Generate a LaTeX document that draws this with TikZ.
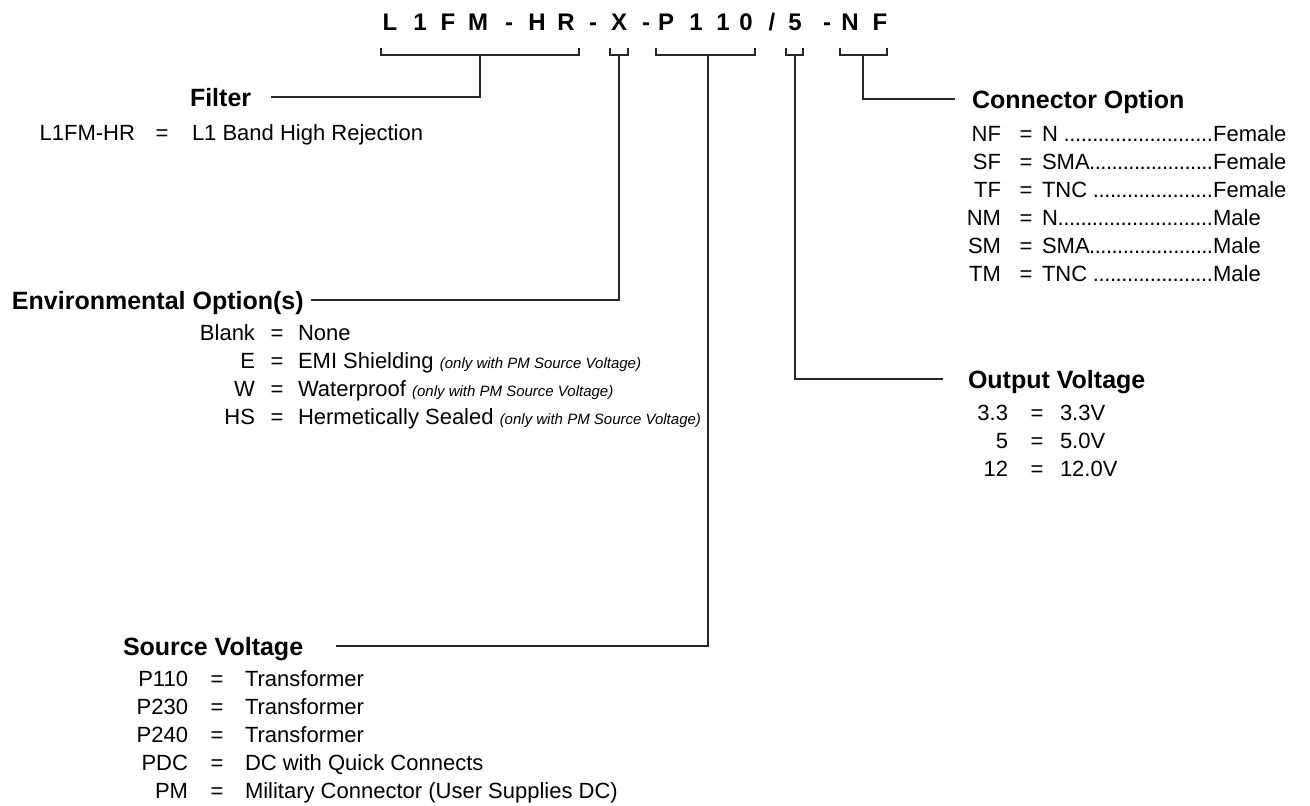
\documentclass[tikz,border=0pt]{standalone}
\usepackage{fontspec}
\setmainfont{Liberation Sans}
\usepackage{tikz}
\usetikzlibrary{positioning, calc}

\newcommand{\leaderdots}{\xleaders\hbox to 5.6pt{\hss.}\hfill}
\newcommand{\envnote}[1]{{\fontsize{15}{18}\selectfont\itshape #1}}

\begin{document}
\begin{tikzpicture}[x=1pt, y=-1pt,
        every node/.style={inner sep=0pt, outer sep=0pt},
        code/.style={font=\fontsize{24}{28}\selectfont\bfseries, anchor=base},
        head/.style={font=\fontsize{25}{30}\selectfont\bfseries, text height=18pt, text depth=0pt, anchor=west},
        txt/.style={font=\fontsize{22}{26}\selectfont},
        wire/.style={line width=1.1pt, black!85}]
        \useasboundingbox (0,0) rectangle (1310,806);

        % Codice del modello
        \foreach \ch/\x [count=\i] in {L/390, 1/420, F/448, M/478, -/509, H/537, R/566, -/593, X/619, -/646, P/666, 1/696, 1/723, 0/746, {/}/772, 5/795, -/827, N/850, F/880}
            \node[code] (ch\i) at (\x,30) {\ch};

        % Parentesi
        \coordinate (b1) at (480,55);
        \coordinate (b2) at (619,55);
        \coordinate (b3) at (708,55);
        \coordinate (b4) at (795,55);
        \coordinate (b5) at (863,55);
        \draw[wire] (381,48) |- (b1) -| (579,48);
        \draw[wire] (610,48) |- (b2) -| (628,48);
        \draw[wire] (656,48) |- (b3) -| (755,48);
        \draw[wire] (786,48) |- (b4) -| (803,48);
        \draw[wire] (840,48) |- (b5) -| (887,48);

        % Filtro
        \node[head] (filterhead) at (190,97) {Filter};
        \node[txt, anchor=base east] (fcode) at (135,140) {L1FM-HR};
        \node[txt, anchor=base] (feq) at (162,140) {=};
        \node[txt, anchor=base west] (fval) at (192,140) {L1 Band High Rejection};
        \draw[wire] (b1) |- ([xshift=20pt]filterhead.east);

        % Opzioni ambientali
        \node[head] (envhead) at (12,300) {Environmental Option(s)};
        \draw[wire] (b2) |- ([xshift=7pt]envhead.east);
        \foreach \k/\v [count=\i] in {Blank/None, E/{EMI Shielding \envnote{(only with PM Source Voltage)}}, W/{Waterproof \envnote{(only with PM Source Voltage)}}, HS/{Hermetically Sealed \envnote{(only with PM Source Voltage)}}} {
            \node[txt, anchor=base east] (envkey\i) at (255,312+28*\i) {\k};
            \node[txt, anchor=base] (enveq\i) at (277,312+28*\i) {=};
            \node[txt, anchor=base west] (envval\i) at (298,312+28*\i) {\v};
        }

        % Tensione di alimentazione
        \node[head] (srchead) at (123,646) {Source Voltage};
        \draw[wire] (b3) |- ([xshift=33pt]srchead.east);
        \foreach \k/\v [count=\i] in {P110/Transformer, P230/Transformer, P240/Transformer, PDC/DC with Quick Connects, PM/Military Connector (User Supplies DC)} {
            \node[txt, anchor=base east] (srckey\i) at (188,658+28*\i) {\k};
            \node[txt, anchor=base] (srceq\i) at (217,658+28*\i) {=};
            \node[txt, anchor=base west] (srcval\i) at (245,658+28*\i) {\v};
        }

        % Tensione di uscita
        \node[head] (outhead) at (968,379) {Output Voltage};
        \draw[wire] (b4) |- ([xshift=-25pt]outhead.west);
        \foreach \k/\v [count=\i] in {3.3/3.3V, 5/5.0V, 12/12.0V} {
            \node[txt, anchor=base east] (outkey\i) at (1008,392+28*\i) {\k};
            \node[txt, anchor=base] (outeq\i) at (1037,392+28*\i) {=};
            \node[txt, anchor=base west] (outval\i) at (1060,392+28*\i) {\v};
        }

        % Connettore
        \node[head] (conhead) at (972,99) {Connector Option};
        \draw[wire] (b5) |- ([xshift=-17pt]conhead.west);
        \foreach \k/\v/\t [count=\i] in {NF/N\ /Female, SF/SMA/Female, TF/TNC\ /Female, NM/N/Male, SM/SMA/Male, TM/TNC\ /Male} {
            \node[txt, anchor=base east] (conkey\i) at (1001,113+28*\i) {\k};
            \node[txt, anchor=base] (coneq\i) at (1026,113+28*\i) {=};
            \node[txt, anchor=base west] (conval\i) at (1042,113+28*\i) {\makebox[171pt][l]{\v\leaderdots}\t};
        }
\end{tikzpicture}
\end{document}
